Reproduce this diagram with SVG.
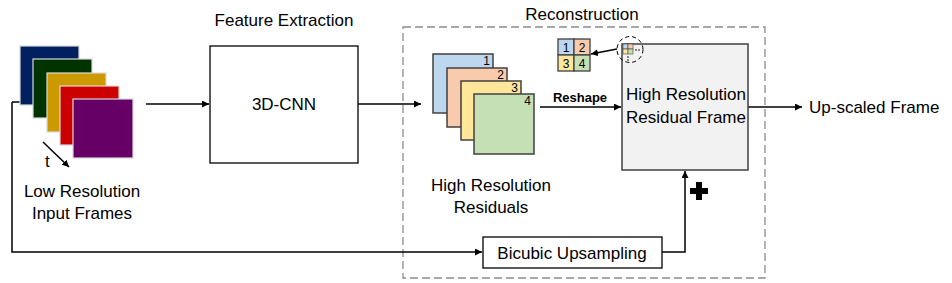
<svg xmlns="http://www.w3.org/2000/svg" width="952" height="283" viewBox="0 0 952 283">
<style>
text{font-family:"Liberation Sans",Arial,sans-serif;fill:#000}
.lbl{font-size:17px}
.num{font-size:12px}
.ln{stroke:#000;stroke-width:1.5;fill:none}
.frame{stroke:#d9d9d9;stroke-width:1.2}
.res{stroke:#404040;stroke-width:1.5}
</style>
<defs>
<marker id="ah" viewBox="0 0 10 10" refX="10" refY="5" markerWidth="7" markerHeight="7" markerUnits="userSpaceOnUse" orient="auto">
<path d="M0,0 L10,5 L0,10 z" fill="#000"/>
</marker>
</defs>
<rect width="952" height="283" fill="#fff"/>

<g id="reconstruction">
<rect x="403" y="27" width="362" height="251" fill="none" stroke="#8c8c8c" stroke-width="1.3" stroke-dasharray="8,4"/>
<text class="lbl" x="582" y="20" text-anchor="middle">Reconstruction</text>
</g>

<g id="connectors">
<line class="ln" x1="12" y1="102" x2="48" y2="102"/>
<polyline class="ln" points="12,102 12,252 482,252" marker-end="url(#ah)"/>
<line class="ln" x1="146" y1="104" x2="209" y2="104" marker-end="url(#ah)"/>
<line class="ln" x1="358" y1="104" x2="421" y2="104" marker-end="url(#ah)"/>
<line class="ln" x1="540" y1="107" x2="621" y2="107" marker-end="url(#ah)"/>
<line class="ln" x1="748" y1="107" x2="802" y2="107" marker-end="url(#ah)"/>
<polyline class="ln" points="662,252 685,252 685,171" marker-end="url(#ah)"/>
<line class="ln" x1="617" y1="49" x2="591" y2="54" marker-end="url(#ah)"/>
<line class="ln" x1="43" y1="142" x2="69" y2="167" stroke-width="1.3" marker-end="url(#ah)"/>
<rect x="696" y="182" width="6" height="18" fill="#000"/>
<rect x="690" y="188" width="18" height="6" fill="#000"/>
</g>

<g id="input-frames">
<rect class="frame" x="20" y="46" width="59" height="59" fill="#002060"/>
<rect class="frame" x="33" y="59" width="59" height="59" fill="#003300"/>
<rect class="frame" x="47" y="73" width="59" height="59" fill="#cc9900"/>
<rect class="frame" x="60" y="86" width="59" height="59" fill="#cc0000"/>
<rect class="frame" x="73" y="99" width="60" height="59" fill="#660066"/>
<text class="lbl" x="45" y="167" font-size="16">t</text>
<text class="lbl" x="82" y="197" text-anchor="middle">Low Resolution</text>
<text class="lbl" x="82" y="219" text-anchor="middle">Input Frames</text>
</g>

<g id="cnn">
<rect x="210" y="46" width="148" height="117" fill="#fff" stroke="#000" stroke-width="1.3"/>
<text class="lbl" x="284" y="110" text-anchor="middle">3D-CNN</text>
<text class="lbl" x="284" y="26" text-anchor="middle">Feature Extraction</text>
</g>

<g id="residuals">
<rect class="res" x="433" y="54" width="60" height="59" fill="#bdd7ee"/>
<text class="num" x="490" y="65" text-anchor="end">1</text>
<rect class="res" x="447" y="68" width="60" height="59" fill="#f8cbad"/>
<text class="num" x="504" y="79" text-anchor="end">2</text>
<rect class="res" x="461" y="81" width="60" height="59" fill="#ffe699"/>
<text class="num" x="518" y="92" text-anchor="end">3</text>
<rect class="res" x="474" y="94" width="60" height="60" fill="#c5e0b4"/>
<text class="num" x="531" y="105" text-anchor="end">4</text>
<text class="lbl" x="491" y="191" text-anchor="middle">High Resolution</text>
<text class="lbl" x="491" y="213" text-anchor="middle">Residuals</text>
<text x="580" y="102" text-anchor="middle" font-size="13" font-weight="bold">Reshape</text>
</g>

<g id="pixel-grid">
<rect x="558" y="39" width="16" height="16" fill="#bdd7ee" stroke="#404040" stroke-width="1.3"/>
<rect x="574" y="39" width="16" height="16" fill="#f8cbad" stroke="#404040" stroke-width="1.3"/>
<rect x="558" y="55" width="16" height="16" fill="#ffe699" stroke="#404040" stroke-width="1.3"/>
<rect x="574" y="55" width="16" height="16" fill="#c5e0b4" stroke="#404040" stroke-width="1.3"/>
<text class="num" x="566" y="52" text-anchor="middle">1</text>
<text class="num" x="582" y="52" text-anchor="middle">2</text>
<text class="num" x="566" y="68" text-anchor="middle">3</text>
<text class="num" x="582" y="68" text-anchor="middle">4</text>
</g>

<g id="hr-frame">
<rect x="622" y="44" width="126" height="126" fill="#f2f2f2" stroke="#404040" stroke-width="1.5"/>
<rect x="623" y="44" width="5" height="5" fill="#bdd7ee" stroke="#404040" stroke-width="0.6"/>
<rect x="628" y="44" width="5" height="5" fill="#f8cbad" stroke="#404040" stroke-width="0.6"/>
<rect x="623" y="49" width="5" height="5" fill="#ffe699" stroke="#404040" stroke-width="0.6"/>
<rect x="628" y="49" width="5" height="5" fill="#c5e0b4" stroke="#404040" stroke-width="0.6"/>
<circle cx="636" cy="50" r="0.8" fill="#000"/>
<circle cx="639" cy="50" r="0.8" fill="#000"/>
<circle cx="628" cy="57" r="0.8" fill="#000"/>
<circle cx="628" cy="60" r="0.8" fill="#000"/>
<circle cx="630" cy="49.5" r="13" fill="none" stroke="#000" stroke-width="1" stroke-dasharray="4,3"/>
<text class="lbl" x="686" y="100" text-anchor="middle">High Resolution</text>
<text class="lbl" x="686" y="123" text-anchor="middle">Residual Frame</text>
</g>

<g id="bicubic">
<rect x="483" y="237" width="179" height="31" fill="#fff" stroke="#000" stroke-width="1.3"/>
<text class="lbl" x="572" y="259" text-anchor="middle">Bicubic Upsampling</text>
</g>

<g id="output">
<text class="lbl" x="809" y="113">Up-scaled Frame</text>
</g>
</svg>
